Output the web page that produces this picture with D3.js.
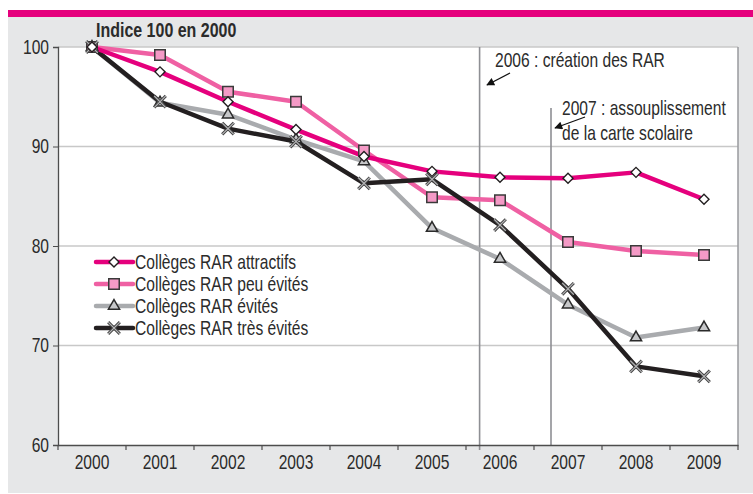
<!DOCTYPE html>
<html>
<head>
<meta charset="utf-8">
<script src="https://cdn.jsdelivr.net/npm/d3@7"></script>
<style>
  body { margin: 0; background: #fff; }
  text { font-family: "Liberation Sans", Arial, sans-serif; fill: #2b2b2b; }
</style>
</head>
<body>
<div id="chart"></div>
<script>
const years = [2000, 2001, 2002, 2003, 2004, 2005, 2006, 2007, 2008, 2009];
const attractifs = [100, 97.5, 94.5, 91.7, 89.0, 87.5, 86.9, 86.8, 87.4, 84.7];
const peuEvites = [100, 99.2, 95.5, 94.5, 89.6, 84.9, 84.6, 80.4, 79.5, 79.1];
const evites = [100, 94.4, 93.2, 90.7, 88.5, 81.8, 78.7, 74.1, 70.8, 71.8];
const tresEvites = [100, 94.5, 91.8, 90.5, 86.3, 86.7, 82.1, 75.7, 67.9, 66.9];
const seriesNames = ['Collèges RAR attractifs', 'Collèges RAR peu évités', 'Collèges RAR évités', 'Collèges RAR très évités'];
const yTicks = [60, 70, 80, 90, 100];
const events = [
  {year: 2006, lines: ['2006 : création des RAR']},
  {year: 2007, lines: ['2007 : assouplissement', 'de la carte scolaire']}
];

const W = 753, H = 494;
const plot = {left: 58, right: 738, top: 47, bottom: 445};
const NARROW = 0.78;  // condensed look
const FS = 20;

const styles = [
  {color: '#e5007d', symbol: 'diamond'},
  {color: '#ef60a3', symbol: 'square'},
  {color: '#a9abae', symbol: 'triangle'},
  {color: '#231f20', symbol: 'x'}
];
const allSeries = [attractifs, peuEvites, evites, tresEvites];

const svg = d3.select('#chart').append('svg').attr('width', W).attr('height', H);

// narrow text placed at (tx, ty)
function ntext(parent, tx, ty, size) {
  return parent.append('g').attr('transform', `translate(${tx},${ty}) scale(${NARROW},1)`)
    .append('text').attr('font-size', size).attr('fill', '#2b2b2b');
}

// background panel
svg.append('rect').attr('x', 8).attr('y', 17).attr('width', W - 8).attr('height', H - 18).attr('fill', '#e6e7e8');
svg.append('rect').attr('x', 8).attr('y', 10).attr('width', W - 8).attr('height', 7).attr('fill', '#e5007d');
svg.append('rect').attr('x', plot.left).attr('y', plot.top)
  .attr('width', plot.right - plot.left).attr('height', plot.bottom - plot.top).attr('fill', '#fff');

const x = d3.scaleBand().domain(years).range([plot.left, plot.right]).padding(0);
const y = d3.scaleLinear().domain([60, 100]).range([plot.bottom, plot.top]);
const cx = d => x(d) + x.bandwidth() / 2;

// grid
svg.append('g').selectAll('line').data(yTicks.filter(t => t > 60)).enter().append('line')
  .attr('x1', plot.left).attr('x2', plot.right)
  .attr('y1', d => y(d)).attr('y2', d => y(d))
  .attr('stroke', '#c8c8c8').attr('stroke-width', 1.5);

// right border
svg.append('line').attr('x1', plot.right).attr('x2', plot.right).attr('y1', plot.top).attr('y2', plot.bottom)
  .attr('stroke', '#999a9e').attr('stroke-width', 1.5);

// event lines
const evOffset = [0.2, 0.25];
const evTop = [plot.top, 108];
const evBottom = [450, 446];
events.forEach((e, i) => {
  svg.append('line')
    .attr('x1', x(e.year) + x.bandwidth() * evOffset[i]).attr('x2', x(e.year) + x.bandwidth() * evOffset[i])
    .attr('y1', evTop[i]).attr('y2', evBottom[i])
    .attr('stroke', '#8e8f94').attr('stroke-width', 1.6);
});

// y axis
const yAxis = svg.append('g').attr('transform', `translate(${plot.left},0)`)
  .call(d3.axisLeft(y).tickValues(yTicks).tickSize(5).tickPadding(4));
yAxis.select('.domain').attr('stroke', '#4d4d4d').attr('stroke-width', 1.3);
yAxis.selectAll('.tick line').attr('stroke', '#4d4d4d');
yAxis.selectAll('.tick text').attr('font-size', FS).attr('fill', '#2b2b2b')
  .attr('font-family', '"Liberation Sans", sans-serif')
  .attr('x', -9 / NARROW).attr('transform', `scale(${NARROW},1)`);

// x axis
const xAxis = svg.append('g').attr('transform', `translate(0,${plot.bottom})`)
  .call(d3.axisBottom(x).tickSize(0).tickPadding(10));
xAxis.select('.domain').attr('stroke', '#4d4d4d').attr('stroke-width', 1.3);
xAxis.selectAll('.tick text').attr('font-size', FS).attr('fill', '#2b2b2b')
  .attr('font-family', '"Liberation Sans", sans-serif')
  .attr('transform', `scale(${NARROW},1)`);
svg.append('g').selectAll('line').data(years.concat([null])).enter().append('line')
  .attr('x1', (d, i) => plot.left + i * x.bandwidth()).attr('x2', (d, i) => plot.left + i * x.bandwidth())
  .attr('y1', plot.bottom).attr('y2', plot.bottom + 5)
  .attr('stroke', '#4d4d4d').attr('stroke-width', 1.2);

// title
ntext(svg, 96, 37, 20.5).attr('font-weight', 'bold').text('Indice 100 en 2000');

// marker drawing
function drawMarker(g, sym, cxv, cyv) {
  if (sym === 'diamond') {
    g.append('path').attr('d', d3.symbol(d3.symbolSquare, 50)())
      .attr('transform', `translate(${cxv},${cyv}) rotate(45)`)
      .attr('fill', '#fff').attr('stroke', '#231f20').attr('stroke-width', 1.4);
  } else if (sym === 'square') {
    g.append('path').attr('d', d3.symbol(d3.symbolSquare, 110)())
      .attr('transform', `translate(${cxv},${cyv})`)
      .attr('fill', '#f49ac6').attr('stroke', '#3a3a3a').attr('stroke-width', 1.5);
  } else if (sym === 'triangle') {
    g.append('path').attr('d', d3.symbol(d3.symbolTriangle2, 90)())
      .attr('transform', `translate(${cxv},${cyv})`)
      .attr('fill', '#c6c7c9').attr('stroke', '#2b2b2b').attr('stroke-width', 1.5);
  } else {
    const p = d3.symbol(d3.symbolX, 90)();
    g.append('path').attr('d', p).attr('transform', `translate(${cxv},${cyv})`)
      .attr('fill', 'none').attr('stroke', '#444').attr('stroke-width', 3);
    g.append('path').attr('d', p).attr('transform', `translate(${cxv},${cyv})`)
      .attr('fill', 'none').attr('stroke', '#b9b9bb').attr('stroke-width', 1.1);
  }
}

// series
const line = d3.line().x((d, i) => cx(years[i])).y(d => y(d));
[2, 1, 3, 0].forEach(k => {
  svg.append('path').datum(allSeries[k]).attr('d', line)
    .attr('fill', 'none').attr('stroke', styles[k].color).attr('stroke-width', 4.5)
    .attr('stroke-linejoin', 'round');
});
[2, 1, 3, 0].forEach(k => {
  const g = svg.append('g');
  allSeries[k].forEach((v, i) => drawMarker(g, styles[k].symbol, cx(years[i]), y(v)));
});

// event annotations
const ann = [
  {x: 495, y: 67, ax1: 510, ay1: 73, ax2: 487, ay2: 85},
  {x: 562, y: 115, ax1: 585, ay1: 117, ax2: 555, ay2: 128}
];
const defs = svg.append('defs');
defs.append('marker').attr('id', 'arr').attr('viewBox', '0 0 10 10').attr('refX', 9).attr('refY', 5)
  .attr('markerWidth', 10).attr('markerHeight', 8).attr('markerUnits', 'userSpaceOnUse').attr('orient', 'auto')
  .append('path').attr('d', 'M0,0 L10,5 L0,10 z').attr('fill', '#111');
events.forEach((e, i) => {
  const a = ann[i];
  const t = ntext(svg, a.x, a.y, FS);
  e.lines.forEach((l, j) => t.append('tspan').attr('x', 0).attr('dy', j === 0 ? 0 : 25).text(l));
  svg.append('line').attr('x1', a.ax1).attr('y1', a.ay1).attr('x2', a.ax2).attr('y2', a.ay2)
    .attr('stroke', '#111').attr('stroke-width', 1.3).attr('marker-end', 'url(#arr)');
});

// legend
const leg = svg.append('g');
seriesNames.forEach((name, k) => {
  const ly = 262 + k * 22;
  leg.append('line').attr('x1', 96).attr('x2', 133).attr('y1', ly).attr('y2', ly)
    .attr('stroke', styles[k].color).attr('stroke-width', 4.5).attr('stroke-linecap', 'round');
  const g = leg.append('g');
  drawMarker(g, styles[k].symbol, 114, ly);
  ntext(leg, 135, ly, FS).attr('dy', '0.35em').text(name);
});
</script>
</body>
</html>
